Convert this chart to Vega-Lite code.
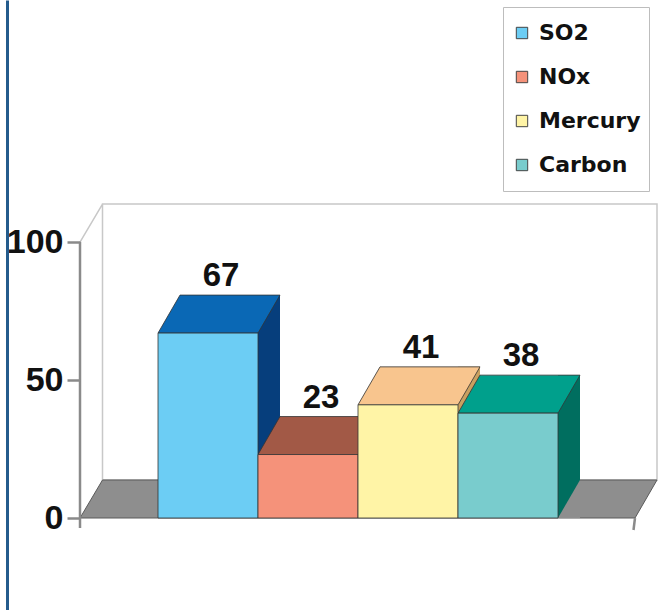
{
  "$schema": "https://vega.github.io/schema/vega-lite/v6.json",
  "width": 665,
  "height": 610,
  "autosize": {"type": "none"},
  "padding": 0,
  "background": "white",
  "config": {"view": {"stroke": null}, "font": "Liberation Sans"},
  "data": {
    "values": [
      {"pollutant": "SO2", "reduction": 67},
      {"pollutant": "NOx", "reduction": 23},
      {"pollutant": "Mercury", "reduction": 41},
      {"pollutant": "Carbon", "reduction": 38}
    ]
  },
  "resolve": {
    "scale": {"fill": "independent", "stroke": "independent"},
    "axis": {"y": "independent"},
    "legend": {"fill": "independent"}
  },
  "layer": [
    {
      "description": "back wall and left wall edge, plus the blue page rule as an axis domain",
      "data": {"values": [{}]},
      "mark": {"type": "point", "shape": "M-230,-38 L324.5,-38 L324.5,-314 L-230,-314 Z M-252.5,-276 L-230,-314", "size": 4, "filled": true, "fill": "white", "stroke": "#c8c8c8", "strokeWidth": 1.5, "opacity": 1},
      "encoding": {
        "y": {"datum": 0, "type": "quantitative", "scale": {"domain": [-33.33, 187.68], "nice": false, "zero": false},
          "axis": {"orient": "left", "offset": -7, "domain": true, "domainColor": "#245b8c", "domainWidth": 3, "ticks": false, "labels": false, "grid": false, "title": null, "zindex": 2}}
      }
    },
    {
      "description": "floor",
      "data": {"values": [{}]},
      "mark": {"type": "point", "shape": "M-252.5,0 L302.5,0 L324.5,-38 L-230,-38 Z", "size": 4, "filled": true, "fill": "#8e8e8e", "stroke": "#5a5a5a", "strokeWidth": 1, "opacity": 1},
      "encoding": {
        "y": {"datum": 0, "type": "quantitative", "scale": {"domain": [-33.33, 187.68], "nice": false, "zero": false}, "axis": null}
      }
    },
    {
      "description": "value axis line and corner tick",
      "data": {"values": [{}]},
      "mark": {"type": "point", "shape": "M-252.5,-276 L-252.5,10 M302.5,0 L301,12", "size": 4, "filled": false, "stroke": "#8a8a8a", "strokeWidth": 2.5, "opacity": 1},
      "encoding": {
        "y": {"datum": 0, "type": "quantitative", "scale": {"domain": [-33.33, 187.68], "nice": false, "zero": false}, "axis": null}
      }
    },
    {
      "description": "side faces of the columns",
      "mark": {"type": "rule", "strokeWidth": 22, "strokeCap": "butt", "xOffset": 61, "x2Offset": 61, "yOffset": -38, "opacity": 1},
      "encoding": {
        "x": {"field": "pollutant", "type": "nominal", "scale": {"domain": ["SO2", "NOx", "Mercury", "Carbon"], "range": [158, 558], "paddingInner": 0, "paddingOuter": 0}, "axis": null},
        "y": {"field": "reduction", "type": "quantitative", "scale": {"domain": [-33.33, 187.68], "nice": false, "zero": false}, "axis": null},
        "y2": {"datum": 0},
        "stroke": {"field": "pollutant", "type": "nominal", "scale": {"domain": ["SO2", "NOx", "Mercury", "Carbon"], "range": ["#063e7c", "#7a3a2e", "#c9a060", "#006e5f"]}, "legend": null}
      }
    },
    {
      "description": "floor showing past the lower edge of each side face",
      "mark": {"type": "point", "shape": "M50,0 L72,0 L72,-38 Z", "size": 4, "filled": true, "fill": "#8e8e8e", "strokeWidth": 0, "opacity": 1},
      "encoding": {
        "x": {"field": "pollutant", "type": "nominal", "scale": {"domain": ["SO2", "NOx", "Mercury", "Carbon"], "range": [158, 558], "paddingInner": 0, "paddingOuter": 0}, "axis": null},
        "y": {"datum": 0, "type": "quantitative", "scale": {"domain": [-33.33, 187.68], "nice": false, "zero": false}, "axis": null}
      }
    },
    {
      "description": "top faces of the columns",
      "mark": {"type": "point", "shape": "M-50,0 L50,0 L72,-38 L-28,-38 Z", "size": 4, "filled": true, "stroke": "#333333", "strokeWidth": 0.8, "opacity": 1},
      "encoding": {
        "x": {"field": "pollutant", "type": "nominal", "scale": {"domain": ["SO2", "NOx", "Mercury", "Carbon"], "range": [158, 558], "paddingInner": 0, "paddingOuter": 0}, "axis": null},
        "y": {"field": "reduction", "type": "quantitative", "scale": {"domain": [-33.33, 187.68], "nice": false, "zero": false}, "axis": null},
        "fill": {"field": "pollutant", "type": "nominal", "scale": {"domain": ["SO2", "NOx", "Mercury", "Carbon"], "range": ["#0a68b5", "#a25946", "#f8c58e", "#00a08c"]}, "legend": null}
      }
    },
    {
      "description": "front faces of the columns, with the value axis and legend",
      "mark": {"type": "bar", "stroke": "#333333", "strokeWidth": 0.8, "opacity": 1},
      "encoding": {
        "x": {"field": "pollutant", "type": "nominal", "scale": {"domain": ["SO2", "NOx", "Mercury", "Carbon"], "range": [158, 558], "paddingInner": 0, "paddingOuter": 0}, "axis": null},
        "y": {"field": "reduction", "type": "quantitative", "stack": null, "scale": {"domain": [-33.33, 187.68], "nice": false, "zero": false},
          "axis": {"orient": "left", "offset": -80, "values": [0, 50, 100], "domain": false, "grid": false, "ticks": true, "tickSize": 13, "tickColor": "#8a8a8a", "tickWidth": 2.5, "labelFont": "Liberation Sans", "labelFontWeight": "bold", "labelFontSize": 34, "labelColor": "#111111", "labelPadding": 4, "title": null, "zindex": 1}},
        "y2": {"datum": 0},
        "fill": {"field": "pollutant", "type": "nominal", "scale": {"domain": ["SO2", "NOx", "Mercury", "Carbon"], "range": ["#6ccdf4", "#f5927a", "#fff4a6", "#79cccd"]},
          "legend": {"title": null, "orient": "none", "legendX": 503, "legendY": 7, "padding": 8, "strokeColor": "#bdbdbd", "fillColor": "white", "symbolType": "square", "symbolSize": 130, "symbolStrokeColor": "#444444", "symbolStrokeWidth": 1, "labelFont": "DejaVu Sans", "labelFontWeight": "bold", "labelFontSize": 22, "labelColor": "#111111", "labelOffset": 6, "clipHeight": 36, "rowPadding": 8}}
      }
    },
    {
      "description": "value labels above the columns",
      "mark": {"type": "text", "font": "Liberation Sans", "fontWeight": "bold", "fontSize": 33, "color": "#111111", "align": "center", "baseline": "alphabetic", "dx": 13, "dy": -47},
      "encoding": {
        "x": {"field": "pollutant", "type": "nominal", "scale": {"domain": ["SO2", "NOx", "Mercury", "Carbon"], "range": [158, 558], "paddingInner": 0, "paddingOuter": 0}, "axis": null},
        "y": {"field": "reduction", "type": "quantitative", "scale": {"domain": [-33.33, 187.68], "nice": false, "zero": false}, "axis": null},
        "text": {"field": "reduction", "type": "quantitative"}
      }
    }
  ]
}
